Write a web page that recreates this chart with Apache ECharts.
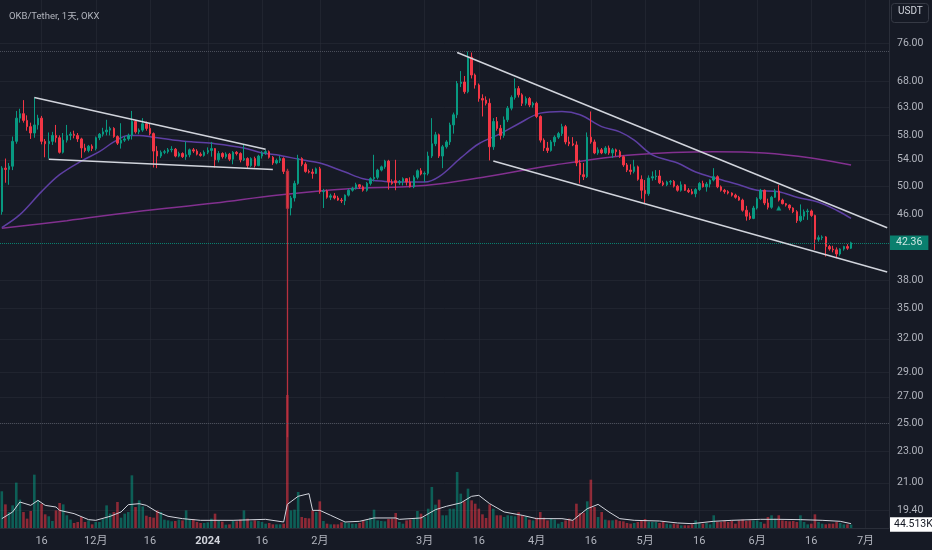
<!DOCTYPE html>
<html>
<head>
<meta charset="utf-8">
<title>OKB/Tether 1天 OKX</title>
<script src="https://cdn.jsdelivr.net/npm/echarts@6.0.0/dist/echarts.min.js"></script>
<style>
    html, body { margin: 0; padding: 0; background: #161a25; }
    #chart { width: 932px; height: 550px; }
</style>
</head>
<body>
<div id="chart"></div>
<script>
// ============================
// 1. 数据
// ============================
const totalDays = 246; // 2023-11-05 起，含右侧空白到 7 月初

// 日K：[开, 高, 低, 收]
const ohlc = [
    [46.4,53.0,46.0,52.7],[52.7,54.2,50.5,52.5],[52.5,53.5,50.2,53.0],[53.0,57.8,52.4,57.0],[57.0,62.3,56.6,61.0],
    [61.0,62.7,60.2,61.8],[61.8,64.3,60.2,60.6],[60.6,61.5,58.8,59.5],[59.5,60.2,57.4,58.4],[58.4,64.8,57.6,59.8],
    [59.8,61.6,59.0,61.0],[61.0,61.4,56.5,57.0],[57.0,57.4,54.4,56.6],[56.6,58.5,54.2,57.0],[57.0,58.6,56.4,58.0],
    [58.0,59.8,56.8,57.6],[57.6,58.0,55.0,55.2],[55.2,58.4,55.0,57.2],[57.2,59.8,56.8,58.0],[58.0,58.6,57.2,58.2],
    [58.2,58.8,57.5,58.0],[58.0,58.4,56.9,57.4],[57.4,57.6,54.3,55.9],[55.9,56.6,55.2,55.5],[55.5,56.4,55.2,56.2],
    [56.2,56.5,55.4,55.8],[55.8,57.8,55.5,57.6],[57.6,58.4,57.2,58.2],[58.2,59.3,57.8,58.6],[58.6,60.7,58.0,58.9],
    [58.9,59.5,58.0,59.2],[59.2,59.4,57.6,57.8],[57.8,58.0,56.4,56.7],[56.7,60.1,55.8,57.2],[57.2,57.9,56.9,57.4],
    [57.4,58.3,57.1,58.0],[58.0,62.3,57.3,60.4],[60.4,60.6,58.3,58.6],[58.6,59.2,58.2,58.9],[58.9,61.0,58.6,60.0],
    [60.0,60.4,58.8,59.2],[59.2,60.0,58.0,58.3],[58.3,58.5,52.8,55.4],[55.4,56.2,52.7,54.6],[54.6,55.5,54.3,55.2],
    [55.2,55.6,54.9,55.3],[55.3,55.9,55.0,55.6],[55.6,56.2,55.2,55.7],[55.7,55.9,54.4,54.6],[54.6,55.3,54.4,55.0],
    [55.0,55.2,54.3,54.5],[54.5,57.0,54.0,54.8],[54.8,55.8,54.4,55.6],[55.6,55.9,55.1,55.4],[55.4,55.7,54.7,54.9],
    [54.9,55.2,54.5,54.7],[54.7,55.5,54.5,55.2],[55.2,56.0,54.9,55.5],[55.5,56.9,54.5,55.8],[55.8,55.9,52.8,54.0],
    [54.0,55.4,53.6,55.0],[55.0,55.2,54.2,54.5],[54.5,55.2,54.2,54.9],[54.9,55.1,53.8,54.1],[54.1,55.4,53.3,55.2],
    [55.2,55.4,54.7,55.0],[55.0,55.2,53.6,54.0],[54.0,56.4,53.8,54.2],[54.2,54.4,52.7,53.1],[53.1,54.4,52.9,54.2],
    [54.2,54.5,52.8,53.1],[53.1,54.8,53.0,54.6],[54.6,55.4,54.2,55.1],[55.1,55.6,54.8,55.3],[55.3,55.5,54.2,54.4],
    [54.4,54.6,53.2,53.5],[53.5,54.2,53.3,53.9],[53.9,54.6,53.5,54.2],[54.2,54.4,51.8,52.2],[52.2,52.6,24.0,46.9],
    [46.9,48.6,45.9,48.3],[48.3,50.8,47.8,50.4],[50.4,54.8,50.2,54.2],[54.2,54.4,53.0,53.3],[53.3,53.6,52.0,52.2],
    [52.2,52.5,51.9,52.1],[52.1,52.6,51.1,51.9],[51.9,52.8,51.8,52.6],[52.6,52.9,48.9,49.2],[49.2,49.6,46.9,49.3],
    [49.3,49.5,48.2,48.4],[48.4,48.9,48.0,48.6],[48.6,49.0,48.1,48.3],[48.3,48.6,47.9,48.0],[48.0,48.3,47.6,47.9],
    [47.9,48.8,47.3,48.7],[48.7,49.6,48.5,49.4],[49.4,49.9,49.2,49.7],[49.7,50.5,49.5,50.2],[50.2,50.3,49.6,49.9],
    [49.9,50.1,49.2,49.4],[49.4,50.6,49.2,50.4],[50.4,51.3,50.1,51.1],[51.1,54.8,50.7,51.3],[51.3,52.6,51.0,52.4],
    [52.4,53.1,52.2,52.9],[52.9,54.0,52.6,53.8],[53.8,54.0,49.5,50.6],[50.6,51.0,50.2,50.4],[50.8,54.0,49.4,50.5],
    [50.5,50.9,50.2,50.7],[50.7,51.3,50.1,51.1],[51.1,51.2,50.1,50.6],[50.6,51.3,49.8,49.9],[49.9,51.6,49.7,51.3],
    [51.3,52.5,51.0,52.3],[52.3,52.7,51.6,51.8],[51.8,52.2,50.6,51.9],[51.9,55.3,51.6,54.6],[54.6,61.0,54.3,56.6],
    [56.6,58.6,56.2,58.1],[58.1,58.3,54.3,54.6],[54.6,56.4,52.7,56.1],[56.1,57.2,55.8,56.9],[56.9,60.2,56.4,59.8],
    [59.8,62.0,58.3,61.6],[61.6,68.0,61.0,67.5],[67.5,70.0,66.8,67.8],[67.8,69.0,65.5,65.9],[65.9,74.1,65.6,72.9],
    [72.9,73.9,68.5,69.2],[69.2,69.5,66.5,67.2],[67.2,67.5,64.0,64.6],[64.6,65.4,61.3,64.3],[64.3,65.0,63.3,63.7],
    [63.7,64.6,53.9,56.1],[56.1,61.0,55.6,60.4],[60.4,61.2,58.8,59.2],[59.2,59.8,57.3,58.0],[58.0,61.3,57.6,60.7],
    [60.7,63.2,60.3,62.8],[62.8,65.2,62.4,64.8],[64.8,68.5,64.4,66.5],[66.5,67.0,64.8,65.3],[65.3,65.6,63.2,63.7],
    [63.7,65.0,63.3,64.6],[64.6,64.9,63.0,63.4],[63.4,64.0,62.9,63.7],[63.7,64.0,61.0,61.3],[61.3,61.5,56.8,57.2],
    [57.2,57.5,55.4,55.9],[55.9,56.9,55.1,55.5],[55.5,57.2,55.3,56.9],[56.9,58.0,56.2,57.7],[57.7,58.6,57.4,58.3],
    [58.3,60.0,57.9,59.5],[59.5,59.8,56.5,56.9],[56.9,57.8,56.2,56.6],[56.6,57.7,56.2,56.4],[56.4,57.0,53.0,53.5],
    [53.5,54.0,50.4,51.7],[51.7,53.5,50.9,51.4],[51.4,58.5,51.2,57.7],[57.7,62.2,56.6,56.9],[56.9,57.3,54.9,55.1],
    [55.1,56.0,54.8,55.6],[55.6,55.9,54.9,55.1],[55.1,56.2,54.9,55.9],[55.9,56.3,54.8,55.1],[55.1,55.9,54.3,55.6],
    [55.6,55.8,54.6,55.3],[55.3,55.6,54.3,54.5],[54.5,54.7,52.9,53.2],[53.2,53.5,52.1,52.4],[52.4,53.3,51.7,52.2],
    [52.2,54.0,51.9,52.9],[52.9,53.1,50.8,51.0],[51.0,51.6,48.2,49.4],[49.4,50.9,47.6,48.9],[48.9,51.6,48.6,51.2],
    [51.2,52.2,50.8,51.4],[51.4,52.4,50.9,51.5],[51.5,52.4,50.3,50.5],[50.5,50.8,50.0,50.2],[50.2,50.8,50.0,50.6],
    [50.6,50.9,50.2,50.7],[50.7,50.9,49.8,50.0],[50.0,50.2,49.2,49.4],[49.4,50.7,49.2,50.2],[50.2,50.3,49.3,49.4],
    [49.4,49.7,49.0,49.2],[49.2,49.6,48.8,48.9],[48.9,49.7,48.4,49.5],[49.5,50.6,49.3,50.4],[50.4,50.8,49.8,49.9],
    [49.9,50.6,49.2,50.3],[50.3,51.0,49.8,50.9],[50.9,52.7,50.7,51.4],[51.4,51.6,49.7,49.9],[49.9,50.1,49.2,49.4],
    [49.4,49.6,48.9,49.2],[49.2,49.4,48.8,49.0],[49.0,49.1,48.5,48.7],[48.7,48.9,48.2,48.4],[48.4,48.6,47.9,48.0],
    [48.0,48.2,46.4,46.6],[46.6,47.2,45.2,45.8],[45.8,46.3,45.3,45.5],[45.5,47.2,45.4,46.9],[46.9,48.4,46.7,48.2],
    [48.2,49.6,48.0,49.4],[49.4,49.5,47.3,47.6],[47.6,48.2,46.7,47.0],[47.0,48.6,46.8,48.4],[48.4,49.6,48.3,49.3],
    [49.3,50.2,47.8,48.0],[48.0,48.2,47.4,47.5],[47.5,47.6,47.1,47.3],[47.3,47.4,46.6,46.9],[46.9,47.0,46.2,46.4],
    [46.4,46.6,44.9,45.2],[45.2,47.4,45.0,45.8],[45.8,46.7,45.3,46.4],[46.4,46.8,45.3,46.5],[46.5,46.7,45.7,45.9],
    [45.9,46.0,41.5,42.8],[42.8,43.3,42.5,43.0],[43.0,43.3,42.7,43.1],[43.1,43.2,40.7,41.9],[41.9,42.1,41.4,41.6],
    [41.6,42.0,41.2,41.5],[41.5,41.8,40.5,41.0],[41.0,41.7,40.8,41.6],[41.6,42.0,41.4,41.9],[41.9,42.2,41.5,41.7],
    [41.7,42.5,41.6,42.36]
];

// 成交量（千）
const volumes = [
    483,311,210,298,597,373,210,123,224,702,
    364,320,180,154,92,232,329,311,167,110,
    66,79,145,79,100,48,79,79,118,298,
    189,210,342,136,189,210,693,276,364,285,
    162,145,136,232,210,110,100,88,92,110,
    100,232,118,118,79,66,66,75,123,189,
    92,83,44,48,92,88,110,232,123,88,
    100,92,79,57,66,48,48,48,57,1750,
    232,241,474,145,132,127,232,210,351,92,
    57,48,48,48,75,75,66,57,57,66,
    100,100,136,241,100,92,88,118,123,197,
    79,57,100,110,127,224,189,145,254,540,
    307,373,167,167,254,254,737,452,350,518,
    364,320,254,180,132,311,254,167,167,145,
    167,162,154,206,167,145,110,100,136,210,
    136,100,123,110,57,79,100,123,100,320,
    197,200,351,636,276,145,210,110,101,101,
    110,92,88,66,57,66,79,100,118,83,
    79,79,66,79,57,48,57,48,35,35,
    35,48,100,66,57,66,48,167,79,79,
    92,79,92,57,100,110,92,100,100,100,
    79,57,145,167,123,167,100,92,88,92,
    79,167,79,48,57,180,79,57,48,57,
    57,79,66,48,48,44.513
];

// 均线读数 [序号, 值]
const maFast = [[0,44.3],[5,46.0],[11,49.2],[16,51.7],[22,53.8],[27,55.3],[31,56.9],[35,58.0],[38,58.0],
    [42,57.7],[48,57.2],[53,56.9],[59,56.6],[67,55.9],[72,55.1],[76,54.8],[83,54.0],[88,53.5],[95,52.1],
    [100,51.1],[106,50.7],[111,50.6],[117,50.6],[121,51.4],[127,54.3],[132,56.6],[138,58.3],[143,60.0],
    [149,61.9],[155,62.2],[160,61.6],[166,59.5],[171,58.6],[175,57.2],[180,54.8],[187,53.5],[192,52.1],
    [198,51.1],[204,50.2],[209,49.4],[215,49.2],[220,48.4],[226,47.7],[231,46.6],[235,45.5]];
const maSlow = [[0,44.2],[18,45.2],[37,46.4],[59,47.6],[76,48.7],[95,49.6],[117,50.1],[134,51.4],
    [153,53.2],[175,54.8],[197,55.3],[211,55.1],[224,54.3],[235,53.2]];
const volMa = [[0,123],[3,211],[5,342],[8,298],[10,364],[12,298],[15,276],[16,232],[20,189],[24,110],
    [26,101],[30,154],[33,211],[35,307],[38,320],[40,298],[43,211],[46,154],[50,123],[55,101],[64,101],
    [73,114],[78,79],[79,311],[82,417],[85,452],[86,232],[88,232],[91,167],[95,79],[99,88],[103,132],
    [109,132],[110,114],[116,132],[120,241],[123,285],[127,330],[130,417],[132,430],[135,320],[139,211],
    [144,167],[148,123],[155,123],[158,101],[162,254],[165,311],[168,211],[171,123],[175,101],[182,92],
    [187,66],[191,57],[197,88],[202,101],[210,114],[215,114],[221,110],[227,101],[232,88],[235,57]];

// 画线：三角形 + 下降通道
const triUpper = [[9,64.8],[73,55.7]];
const triLower = [[13,54.1],[75,52.5]];
const chanUpper = [[126,73.9],[245,44.27]];
const chanLower = [[136,53.8],[245,38.9]];

// 价格刻度
const priceTicks = [19.4, 21, 23, 25, 27, 29, 32, 35, 38, 46, 50, 54, 58, 63, 68, 76];
const lastPrice = 42.36;
const lastVolume = 44.513;
const crashDay = 79; // 1 月 23 日插针

// 时间轴标签
const dateLabels = {
    '2023-11-16': '16', '2023-12-01': '12月', '2023-12-16': '16', '2024-01-01': '2024',
    '2024-01-16': '16', '2024-02-01': '2月', '2024-03-01': '3月', '2024-03-16': '16',
    '2024-04-01': '4月', '2024-04-16': '16', '2024-05-01': '5月', '2024-05-16': '16',
    '2024-06-01': '6月', '2024-06-16': '16', '2024-07-01': '7月'
};

// ============================
// 2. 图表
// ============================
const upColor = '#089981';
const downColor = '#f23645';
const gridColor = 'rgba(42, 46, 57, 0.55)';
const textColor = '#b2b5be';
const font = 'Roboto, "Noto Sans CJK SC", sans-serif';

const categories = [];
const day0 = Date.UTC(2023, 10, 5);
for (let i = 0; i < totalDays; i++) {
    categories.push(new Date(day0 + i * 86400000).toISOString().slice(0, 10));
}

const candleData = ohlc.map(([o, h, l, c], i) => {
    const item = { value: [o, c, l, h] };
    // 插针那根影线偏暗红
    if (i === crashDay) item.itemStyle = { borderColor0: '#b8303f', borderWidth: 1.3 };
    return item;
});
const volumeData = volumes.map((v, i) => ({
    value: v,
    itemStyle: { color: ohlc[i][3] >= ohlc[i][0] ? 'rgba(8, 153, 129, 0.55)' : 'rgba(242, 54, 69, 0.55)' }
}));

function trendLine(points) {
    return {
        type: 'line', data: points, symbol: 'none', z: 5, silent: true,
        lineStyle: { color: '#d1d4dc', width: 1.5 }
    };
}

const chart = echarts.init(document.getElementById('chart'), null, { renderer: 'canvas' });
chart.setOption({
    backgroundColor: '#161a25',
    animation: false,
    title: {
        text: 'OKB/Tether, 1天, OKX', left: 4, top: 7,
        textStyle: { color: textColor, fontSize: 9.5, fontWeight: 'normal', fontFamily: font }
    },
    graphic: [
        { type: 'rect', left: 891, top: 3, shape: { width: 37, height: 19, r: 3 },
          style: { fill: 'transparent', stroke: '#363a45', lineWidth: 1 } },
        { type: 'text', left: 898, top: 7,
          style: { text: 'USDT', fill: '#d1d4dc', fontSize: 10, fontFamily: font } }
    ],
    grid: [
        { left: 0, right: 43, top: 0, bottom: 22, outerBoundsMode: 'none' },
        { left: 0, right: 43, top: 395, bottom: 22, outerBoundsMode: 'none' }
    ],
    xAxis: [
        {
            type: 'category', data: categories, gridIndex: 0, boundaryGap: true,
            axisLine: { show: true, lineStyle: { color: '#2a2e39' } },
            axisTick: { show: false },
            axisLabel: {
                interval: (idx, val) => val in dateLabels,
                formatter: val => val === '2024-01-01' ? '{b|2024}' : (dateLabels[val] || ''),
                color: textColor, fontSize: 11, fontFamily: font, margin: 8,
                rich: { b: { fontWeight: 'bold', color: '#d1d4dc', fontSize: 11, fontFamily: font } }
            },
            splitLine: {
                show: true, alignWithLabel: true,
                interval: (idx, val) => val in dateLabels,
                lineStyle: { color: gridColor, width: 1 }
            }
        },
        { type: 'category', data: categories, gridIndex: 1, boundaryGap: true, show: false }
    ],
    yAxis: [
        {
            type: 'log', logBase: 10, gridIndex: 0, position: 'right',
            min: 18.40, max: 86.17,
            axisLine: { show: true, lineStyle: { color: '#2a2e39' } },
            axisTick: { show: false, customValues: priceTicks },
            axisLabel: {
                customValues: priceTicks,
                formatter: v => Number(v).toFixed(2),
                color: textColor, fontSize: 10.5, fontFamily: font, margin: 8
            },
            splitLine: { show: true, lineStyle: { color: gridColor, width: 1 } }
        },
        { type: 'value', gridIndex: 1, min: 0, max: 1750, show: false }
    ],
    series: [
        {
            name: '成交量', type: 'bar', xAxisIndex: 1, yAxisIndex: 1,
            data: volumeData, barWidth: 2.6, z: 1, silent: true,
            markLine: {
                silent: true, symbol: 'none',
                data: [{
                    yAxis: lastVolume,
                    lineStyle: { color: 'transparent', width: 1 },
                    label: {
                        show: true, position: 'end', distance: 1, formatter: lastVolume.toFixed(3) + 'K',
                        backgroundColor: '#ffffff', color: '#131722', fontSize: 10.5, fontFamily: font,
                        padding: [2, 4]
                    }
                }]
            }
        },
        {
            name: '成交量均线', type: 'line', xAxisIndex: 1, yAxisIndex: 1,
            data: volMa, symbol: 'none', z: 2, silent: true,
            lineStyle: { color: '#d1d4dc', width: 1 }
        },
        {
            name: '慢线', type: 'line', data: maSlow, symbol: 'none', smooth: 0.35, z: 2, silent: true,
            lineStyle: { color: '#82308f', width: 1.5 }
        },
        {
            name: '快线', type: 'line', data: maFast, symbol: 'none', smooth: 0.35, z: 2, silent: true,
            lineStyle: { color: '#5e3fa3', width: 1.5 }
        },
        {
            name: 'OKB', type: 'candlestick', data: candleData, barWidth: 2, z: 3,
            itemStyle: {
                color: upColor, color0: downColor,
                borderColor: upColor, borderColor0: downColor, borderWidth: 1
            },
            markPoint: {
                silent: true, symbol: 'triangle', symbolSize: [5, 5],
                itemStyle: { color: upColor }, label: { show: false },
                data: [{ coord: [215, 46.9] }]
            },
            markLine: {
                silent: true, symbol: 'none',
                data: [
                    {
                        yAxis: lastPrice,
                        lineStyle: { color: upColor, type: 'dotted', width: 1, opacity: 0.8 },
                        label: {
                            show: true, position: 'end', distance: 1, formatter: lastPrice.toFixed(2),
                            backgroundColor: upColor, color: '#ffffff', fontSize: 10.5,
                            fontFamily: font, padding: [2, 6]
                        }
                    },
                    { yAxis: 74.1, lineStyle: { color: '#4a4e5a', type: 'dotted', width: 1 }, label: { show: false } },
                    { yAxis: 25.0, lineStyle: { color: '#4a4e5a', type: 'dotted', width: 1 }, label: { show: false } }
                ]
            }
        },
        trendLine(triUpper),
        trendLine(triLower),
        trendLine(chanUpper),
        trendLine(chanLower)
    ]
});

window.addEventListener('resize', () => chart.resize());
</script>
</body>
</html>
